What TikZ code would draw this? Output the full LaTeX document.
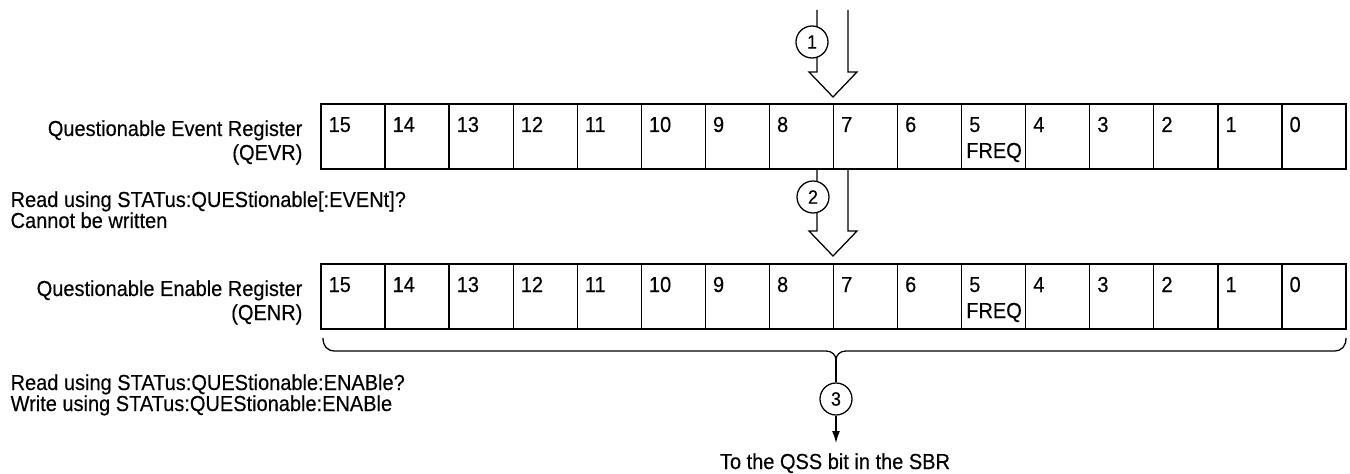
\documentclass[tikz,border=0pt]{standalone}
\usepackage{fontspec}
\setmainfont{Liberation Sans}[FakeStretch=0.92,FakeBold=0.3]
\usetikzlibrary{calc,arrows.meta}
\begin{document}
\begin{tikzpicture}[x=0.75pt,y=-0.75pt, line width=0.95pt,
  cell/.style={draw, minimum width=48.047pt, minimum height=48.75pt, inner sep=0pt, outer sep=0pt, anchor=north west},
  num/.style={font=\fontsize{16.3}{19}\selectfont, inner sep=0pt, anchor=base west},
  labl/.style={font=\fontsize{16.3}{19}\selectfont, inner sep=0pt, anchor=base west},
  labr/.style={font=\fontsize{16.3}{19}\selectfont, inner sep=0pt, anchor=base east},
  circ/.style={draw, circle, fill=white, minimum size=24pt, inner sep=0pt, font=\fontsize{14.5}{17}\selectfont}]
\useasboundingbox (0,0) rectangle (1350,474);

% registers
\foreach \b [count=\k from 0] in {15,14,...,0} {
  \node[cell] (ev\b) at ({321+\k*64.0625},104) {};
  \node[num] (evn\b) at ($(ev\b.north west)+(7,28)$) {\b};
  \node[cell] (en\b) at ({321+\k*64.0625},264) {};
  \node[num] (enn\b) at ($(en\b.north west)+(7,28)$) {\b};
}
\node[num] (evf) at ($(ev5.north west)+(4,54)$) {FREQ};
\node[num] (enf) at ($(en5.north west)+(4,54)$) {FREQ};

% left labels
\node[labr] (qevr1) at (303,136) {Questionable Event Register};
\node[labr] (qevr2) at (303,160) {(QEVR)};
\node[labl] (rd1) at (10,207) {Read using STATus:QUEStionable[:EVENt]?};
\node[labl] (rd2) at (10,228) {Cannot be written};
\node[labr] (qenr1) at (303,296) {Questionable Enable Register};
\node[labr] (qenr2) at (303,320) {(QENR)};
\node[labl] (rd3) at (10,390) {Read using STATus:QUEStionable:ENABle?};
\node[labl] (rd4) at (10,411) {Write using STATus:QUEStionable:ENABle};

% hollow arrow 1
\draw (817,10) -- (817,72) -- (809,72) -- (833,97) -- (857,72) -- (848,72) -- (848,10);
\node[circ] (c1) at (812,42) {1};

% hollow arrow 2
\draw (817,169) -- (817,231) -- (809,231) -- (833,256) -- (857,231) -- (848,231) -- (848,169);
\node[circ] (c2) at (813,197) {2};

% brace
\coordinate (bl) at (323,338);
\coordinate (br) at (1346,338);
\coordinate (bm) at (836,360);
\draw (bl) .. controls (323,346) and (327,351) .. (335,351) -- (826,351)
      .. controls (832,351) and (836,355) .. (bm);
\draw (br) .. controls (1346,346) and (1342,351) .. (1334,351) -- (846,351)
      .. controls (840,351) and (836,355) .. (bm);

\node[circ] (c3) at (836,399) {3};
\coordinate (qss) at (836,443);
\draw (bm) -- (c3);
\draw[-{Latex[length=9pt,width=6pt]}] (c3) -- (qss);
\node[font=\fontsize{16.3}{19}\selectfont, inner sep=0pt, anchor=base] (sbr) at (835,469) {To the QSS bit in the SBR};
\end{tikzpicture}
\end{document}
